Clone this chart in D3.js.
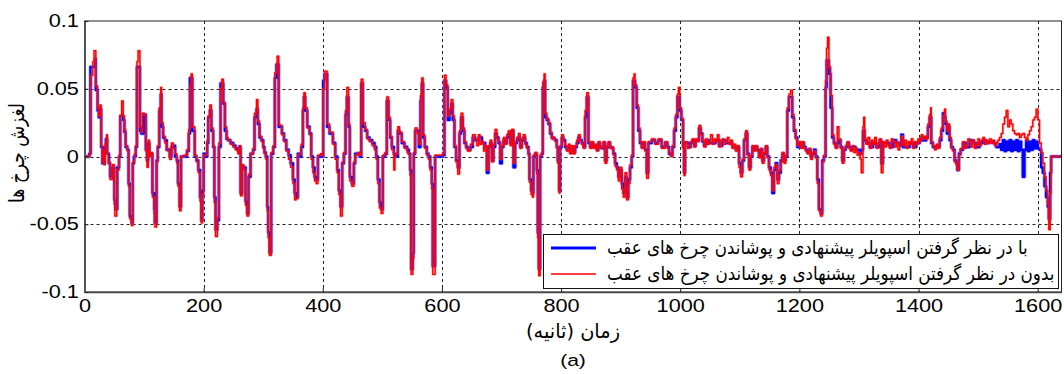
<!DOCTYPE html>
<html><head><meta charset="utf-8">
<script src="https://cdn.jsdelivr.net/npm/d3@7"></script>
<style>body{margin:0;background:#fff} svg{display:block}</style>
</head><body><svg id="c" width="1064" height="374"></svg>
<script>
const xTicks=[0,200,400,600,800,1000,1200,1400,1600];
const yTicks=[-0.1,-0.05,0,0.05,0.1];
const yTickLabels=["-0.1","-0.05","0","0.05","0.1"];
const xLabel="زمان (ثانیه)";
const yLabel="لغزش چرخ ها";
const subLabel="(a)";
const legendLabels=["با در نظر گرفتن اسپویلر پیشنهادی و پوشاندن چرخ های عقب","بدون در نظر گرفتن اسپویلر پیشنهادی و پوشاندن چرخ های عقب"];

// series: with spoiler (blue)
const blueSeries=[[0,0],[8,0.002],[10,0.066],[15,0.066],[18,0.072],[19,0.049],[22,0.034],[24,0.029],[27,0.035],[28,0.007],[30,-0.005],[33,0.007],[36,0.013],[38,0.002],[41,-0.005],[43,-0.015],[47,-0.008],[50,-0.032],[52,-0.039],[55,-0.008],[58,0],[60,0.030],[65,0.027],[67,0.018],[69,0.007],[72,0.005],[74,-0.020],[76,-0.044],[79,-0.049],[81,-0.005],[83,0],[86,0.007],[88,0.066],[93,0.019],[95,0.017],[99,0.031],[103,0.005],[105,-0.003],[107,0.010],[109,0.002],[111,0.002],[114,-0.027],[117,-0.039],[118,-0.049],[121,-0.003],[123,0.007],[125.5,0.034],[128,0.046],[129.4,0.022],[132,0.014],[135,0.012],[138,0.005],[140,0.005],[143,0],[146,0.007],[149,0.008],[152,0],[155,-0.003],[157,-0.020],[159.6,-0.037],[162,0],[167,0],[172,0.004],[175,0.017],[177,0.058],[181,0.019],[185,0],[188,-0.003],[191,-0.010],[194,-0.030],[196,-0.047],[198,-0.025],[200,0.002],[203,0],[206,0.010],[207.7,0.029],[210.5,0.034],[213,0.019],[216,0.007],[218,-0.030],[220,-0.054],[223,-0.047],[225.6,0.007],[228.4,0.054],[233,0.039],[235.7,0.019],[238.5,0.013],[241,0.012],[245,0.010],[249.6,0.008],[253.5,0.006],[257.5,0.004],[259.7,0.007],[262,-0.027],[264.7,-0.008],[267.5,-0.008],[270.3,-0.033],[273,-0.042],[275.3,-0.015],[278.7,0.002],[283,0.005],[285.4,0.029],[288.8,0.035],[291,0.024],[293.8,0.014],[297,0.012],[300,0.007],[302,0.003],[304.4,0],[306.7,-0.037],[308.3,-0.056],[310.6,-0.071],[313.4,0.002],[316.7,0.007],[319.5,0.058],[322.3,0.068],[326,0.022],
[327.5,0.022],[331.4,0.017],[334.8,0.012],[338.7,0.005],[342.6,0.001],[346,-0.005],[349.9,-0.017],[352.7,-0.027],[355.4,-0.030],[358.2,0.002],[361,0],[363.8,0.007],[366.6,0.034],[368.3,0.044],[370.5,0.034],[373.9,0.022],[377.8,0.017],[380.6,0],[383.4,-0.008],[386.2,-0.015],[389,-0.017],[391.8,0],[396.3,0.001],[398.5,0],[400.7,0.056],[403,0.061],[407.4,0.022],[411.3,0.017],[417,0.010],[420.9,0],[424.2,-0.010],[427,-0.025],[429.8,-0.037],[432.6,-0.005],[435.4,0.002],[438.2,0.031],[440.4,0.044],[443.2,0.022],[445.4,-0.015],[448.8,-0.020],[452.2,-0.005],[454.4,0.002],[458.9,0.002],[461.7,0],[464.5,0.054],[467.3,0.022],[471.2,0.019],[474.5,0.014],[478.4,0.012],[482.9,0.010],[486.8,0.007],[489.6,0],[492.4,-0.017],[495.2,-0.034],[498,-0.039],[500.8,0],[504.7,0.002],[507.5,0.041],[510.3,0.027],[513.1,0.014],[515.9,0.007],[519.2,0.002],[523.1,0],[526,0.019],[528.7,0.017],[532.6,0.010],[537.1,0.007],[541.6,0.005],[544.4,0.002],[546.6,-0.010],[548.3,-0.083],[551,-0.071],[552.8,0.002],[555,0.019],[558.4,0.019],[561.2,0.007],[564,0.041],[566.2,0.054],[568.4,0.014],[571.2,0.007],[574.6,0.002],[577.4,0],[580.2,-0.008],[583,-0.020],[584.6,-0.081],[588.5,0],[598.6,0],[601.4,0.001],[604.2,0.056],[607,0.051],[609.8,0.027],[612.6,0.032],[615.4,0.039],[618.2,0.027],[621,0.007],[623.8,-0.003],[626.6,-0.008],[629.4,0.017],[632.1,0.029],[635,0.019],[637.7,0.010],[640.5,0.007],[643.3,0.005],[647.8,0.007],[651.7,0.014],
[655.8,0.012],[661.4,0.014],[667,0.010],[672.6,0.007],[675.4,-0.012],[678.2,0.007],[681,0.010],[683.7,-0.003],[686.5,0.007],[689.3,0.017],[692.1,0.014],[694.9,0.010],[697.7,-0.005],[700.5,0.007],[703.3,0.012],[706.1,0.010],[708.9,0.014],[711.7,0.017],[714.5,0.010],[717.3,0.019],[720.1,-0.008],[722.9,0.010],[725.7,0.012],[728.5,0.014],[731.3,0.007],[734.1,0.012],[736.8,0.014],[739.6,0.010],[742.4,0.007],[745.2,0.002],[746.9,-0.017],[749.7,-0.025],[751.9,-0.027],[753.6,0],[756.4,0.002],[759.2,-0.010],[760.9,-0.056],[762.6,-0.083],[764.8,0],[767.6,0.002],[769.3,0.051],[771.5,0.056],[773.2,0.029],[776,0.027],[778.8,0.024],[781.6,0.017],[784.4,0.014],[787.2,0.013],[790,0.012],[792.7,0.007],[794.4,-0.003],[796.7,-0.025],[798.3,0.007],[801.1,0.014],[803.9,0.012],[806.7,0.007],[809.5,0.005],[812.3,0.007],[815.1,0.003],[817.9,0.007],[820.7,0.003],[823.5,0.007],[826.3,0.010],[829.1,0.014],[831.9,0.012],[834.7,0.010],[837.5,0.007],[840.3,0.029],[843.1,0.044],[845.9,0.010],[848.7,0.007],[851.4,0.010],[854.2,0.007],[857,0.008],[859.8,0.005],[862.6,0.010],[865.4,0.007],[868.2,0.006],[871,0.010],[873.8,-0.003],[876.6,0.007],[879.4,0.010],[882.2,0.007],[885,0.006],[887.8,0.002],[890.6,-0.005],[893.4,-0.008],[896.2,-0.015],[899,-0.010],[901.8,-0.020],[904.6,-0.027],[907.3,-0.015],[910.1,-0.030],[912.9,-0.017],[915.7,-0.008],[918.5,0],[920.8,0.056],[924.1,0.051],[926.9,0.036],[929.7,0.019],[932.5,0.010],[935.3,0.007],[938.1,0.010],[940.9,0.005],[943.7,-0.012],[946.5,0.010],[952.1,0.012],[957.7,0.010],[963.2,0.012],[968.8,0.007],[974.4,0.010],
[978.5,0.007],[981.3,0.002],[984.1,0.001],[986.9,0.007],[989.7,0.019],[992.5,0.029],[995.3,0.044],[999.2,0.034],[1002,0.027],[1004.8,0.007],[1006.4,-0.012],[1008.1,0.010],[1014.8,0.007],[1017.6,0.010],[1020.4,0.012],[1023.2,0.008],[1026,0.012],[1028.8,0.012],[1031.6,0.021],[1034.4,0.017],[1037.2,0.011],[1040,0.008],[1042.8,0.012],[1048.4,0.010],[1054,0.010],[1059.6,0.012],[1065.1,0.008],[1070.7,0.012],[1076.3,0.010],[1081.9,0.010],[1087.5,0.007],[1093.1,0.005],[1095.9,0.007],[1098.7,-0.005],[1101.5,-0.012],[1104.3,-0.003],[1107.1,0.012],[1109.9,0.017],[1112.7,0.002],[1115.5,-0.008],[1118.2,0],[1121,0.007],[1123.8,0.005],[1126.6,0.007],[1129.4,0.005],[1132.2,0],[1135,0.005],[1137.8,-0.003],[1140.6,0.002],[1143.4,0.007],[1146.2,0],[1149,-0.008],[1151.8,-0.012],[1154.6,-0.027],[1157.4,-0.010],[1160.2,-0.005],[1163,-0.017],[1165.8,-0.012],[1168.6,-0.003],[1171.4,0.002],[1174.2,-0.003],[1177,0],[1179.7,0.034],[1182.5,0.044],[1185.3,0.044],[1188.1,0.029],[1190.9,0.019],[1193.7,0.014],[1196.5,0.007],[1199.3,0.010],[1202.1,0.007],[1204.9,0.010],[1207.7,0.007],[1210.5,0.005],[1213.3,0.003],[1216.1,0.005],[1218.9,0],[1221.7,0.002],[1224.5,0.005],[1227.3,0],[1230.1,-0.017],[1232.8,-0.039],[1235.6,-0.042],[1238.4,-0.003],[1241.2,0],[1244,0.051],[1245.7,0.071],[1249.6,0.061],[1252.4,0.036],[1255.2,0.014],[1258,0.010],[1260.8,0.007],[1263.6,0.010],[1266.4,0.012],[1269.2,0.007],[1272,-0.003],[1274.8,0.005],[1277.6,0.007],[1280.4,0.010],[1283.2,0.007],[1286,0.005],[1288.7,0.007],[1294.3,0.005],[1299.9,0.002],
[1304,0.005],[1306.8,0.019],[1309.6,0.012],[1312.4,0.010],[1318,0.007],[1323.6,0.010],[1329.2,0.007],[1334.7,0.012],[1337.5,-0.005],[1340.3,0.010],[1345.9,0.010],[1351.5,0.007],[1357.1,0.012],[1362.7,0.010],[1368.3,0.008],[1371.1,0.016],[1373.9,0.007],[1379.5,0.007],[1385,0.010],[1390.6,0.007],[1396.2,0.010],[1401.8,0.012],[1404.6,0.014],[1407.4,0.012],[1413,0.014],[1415.8,0.022],[1418.6,0.029],[1421.4,0.010],[1424.2,0.007],[1429.8,0.007],[1435.4,0.012],[1438.2,0.019],[1441,0.032],[1443.7,0.029],[1445.4,0.024],[1447.7,0.017],[1449.3,0.022],[1452.1,0.012],[1454.9,0.007],[1457.7,0.005],[1460.5,-0.003],[1463.3,-0.005],[1465,-0.010],[1467.8,0.002],[1470.6,0.005],[1474.5,0.010],[1480.1,0.007],[1485.7,0.012],[1491.3,0.010],[1496.9,0.007],[1502.4,0.010],[1508,0.012],[1513.6,0.010],[1519.2,0.011],[1524.8,0.010],[1530.4,0.007],[1536,0.009],[1538.8,0.005],[1541.6,0.012],[1544.4,0.004],[1547.2,0.011],[1550,0.005],[1552.8,0.012],[1555.5,0.004],[1558.3,0.011],[1561.1,0.005],[1563.9,0.012],[1566.7,0.004],[1569.5,0.011],[1572.3,0.005],[1575.1,-0.015],[1577.9,0.005],[1580.7,0.012],[1583.5,0.004],[1586.3,0.011],[1589.1,0.005],[1591.9,0.012],[1594.7,0.006],[1597.5,0.011],[1600.3,0.006],[1603.1,0.005],[1605.9,-0.008],[1608.7,-0.012],[1611.5,-0.022],[1614.2,-0.030],[1617,-0.037],[1618.7,-0.046],[1621,-0.012],[1622.6,0],[1640,0]];

// series: without spoiler (red)
const redSeries=[[0,0],[9,0.002],[11,0.060],[14,0.070],[16,0.078],[19,0.052],[22,0.036],[24,0.030],[26,0.038],[28,0.008],[30,-0.004],[31.5,0.004],[33,-0.006],[35,0.010],[37,0.016],[38.5,0.002],[40,-0.004],[43,-0.017],[47,-0.006],[50,-0.035],[51,-0.044],[54,-0.010],[58,0.001],[60,0.030],[62.4,0.041],[65,0.030],[67,0.020],[69,0.008],[72,0.004],[74,-0.022],[76,-0.046],[79,-0.051],[81,-0.004],[84,0.002],[86,0.008],[88,0.070],[90,0.078],[93,0.022],[95,0.018],[97,0.032],[100,0.031],[103,0.004],[105,-0.008],[107,0.012],[109,0],[111,0.003],[114,-0.030],[117,-0.042],[118.3,-0.052],[121,-0.004],[123,0.008],[125.5,0.036],[128,0.051],[129.4,0.025],[132,0.015],[135,0.010],[138,0.006],[140,0.004],[143,-0.002],[146,0.010],[149,0.006],[152,0.002],[155,-0.005],[157,-0.022],[159.6,-0.040],[162,0],[167,0.001],[172,0.005],[175,0.020],[177,0.052],[179,0.061],[181,0.022],[185,0.001],[188,-0.004],[191,-0.012],[194,-0.033],[196,-0.049],[198,-0.028],[200,0.001],[203,0.001],[206,0.012],[207.7,0.030],[210.5,0.038],[213,0.021],[216,0.008],[218,-0.034],[220,-0.059],[223,-0.045],[225.6,0.010],[228.4,0.050],[230.6,0.057],[233,0.040],[235.7,0.022],[238.5,0.014],[241,0.012],[245,0.009],[249.6,0.007],[253.5,0.005],[257.5,0.002],[259.7,0.008],[262,-0.029],[264.7,-0.006],[267.5,-0.010],[270.3,-0.036],[273,-0.044],[275.3,-0.013],[278.7,0.002],[283,0.006],[285.4,0.032],[288.8,0.042],[291,0.026],[293.8,0.015],[297,0.011],[300,0.006],[302,0.002],[304.4,-0.002],[306.7,-0.040],[308.3,-0.060],[310.6,-0.073],[313.4,0.003],[316.7,0.008],[319.5,0.062],[323.4,0.074],[326,0.024],
[327.5,0.023],[331.4,0.016],[334.8,0.011],[338.7,0.004],[342.6,-0.002],[346,-0.008],[349.9,-0.020],[352.7,-0.032],[355.4,-0.031],[358.2,0.001],[361,0.002],[363.8,0.009],[366.6,0.036],[368.3,0.047],[370.5,0.036],[373.9,0.021],[377.8,0.016],[380.6,-0.002],[383.4,-0.012],[386.2,-0.018],[389,-0.020],[391.8,0.001],[396.3,0.002],[398.5,0.001],[400.7,0.050],[403,0.063],[407.4,0.024],[411.3,0.018],[417,0.009],[420.9,-0.002],[424.2,-0.012],[427,-0.028],[429.8,-0.044],[432.6,-0.004],[435.4,0.003],[438.2,0.034],[440.4,0.051],[443.2,0.024],[445.4,-0.018],[448.8,-0.022],[452.2,-0.004],[454.4,0.001],[458.9,0.003],[461.7,0.001],[464.5,0.057],[467.3,0.025],[471.2,0.020],[474.5,0.013],[478.4,0.011],[482.9,0.008],[486.8,0.005],[489.6,-0.002],[492.4,-0.020],[495.2,-0.038],[498,-0.042],[500.8,0.001],[504.7,0.003],[507.5,0.044],[510.3,0.029],[513.1,0.015],[515.9,0.005],[519.2,-0.010],[521,0.001],[523.1,0.002],[526,0.022],[528.7,0.018],[532.6,0.011],[537.1,0.006],[541.6,0.003],[544.4,0.001],[546.6,-0.014],[548.3,-0.087],[551,-0.075],[552.8,0.003],[555,0.021],[558.4,0.017],[561.2,0.009],[564,0.045],[566.2,0.058],[568.4,0.016],[571.2,0.006],[574.6,0.001],[577.4,-0.002],[580.2,-0.010],[583,-0.024],[584.6,-0.087],[588.5,0.001],[598.6,0.001],[601.4,0.003],[604.2,0.060],[607,0.053],[609.8,0.030],[612.6,0.035],[615.4,0.042],[618.2,0.030],[621,0.008],[623.8,-0.004],[626.6,-0.013],[629.4,0.019],[632.1,0.032],[635,0.021],[637.7,0.011],[640.5,0.006],[643.3,0.004],[647.8,0.009],[651.7,0.016],
[655.8,0.013],[658.5,0.008],[661.4,0.016],[664,0.009],[667,0.011],[670,0.004],[672.6,0.008],[675.4,-0.010],[678.2,0.008],[681,0.012],[683.7,-0.004],[686.5,0.009],[689.3,0.020],[692.1,0.013],[694.9,0.011],[697.7,-0.002],[700.5,0.008],[703.3,0.014],[706.1,0.009],[708.9,0.016],[711.7,0.019],[714.5,0.008],[717.3,0.020],[720.1,-0.005],[722.9,0.011],[725.7,0.014],[728.5,0.017],[731.3,0.006],[734.1,0.013],[736.8,0.016],[739.6,0.009],[742.4,0.006],[745.2,0.001],[746.9,-0.019],[749.7,-0.028],[751.9,-0.030],[753.6,0.001],[756.4,0.003],[759.2,-0.013],[760.9,-0.060],[762.6,-0.088],[764.8,0.001],[767.6,0.003],[769.3,0.055],[771.5,0.061],[773.2,0.032],[776,0.028],[778.8,0.025],[781.6,0.018],[784.4,0.013],[787.2,0.014],[790,0.011],[792.7,0.006],[794.4,-0.005],[796.7,-0.027],[798.3,0.008],[801.1,0.016],[803.9,0.011],[806.7,0.008],[809.5,0.004],[812.3,0.009],[815.1,0.002],[817.9,0.008],[820.7,0.002],[823.5,0.008],[826.3,0.012],[829.1,0.016],[831.9,0.011],[834.7,0.009],[837.5,0.006],[840.3,0.034],[843.1,0.047],[845.9,0.011],[848.7,0.006],[851.4,0.011],[854.2,0.006],[857,0.009],[859.8,0.004],[862.6,0.011],[865.4,0.006],[868.2,0.007],[871,0.011],[873.8,-0.005],[876.6,0.008],[879.4,0.011],[882.2,0.006],[885,0.007],[887.8,0.001],[890.6,-0.007],[893.4,-0.010],[896.2,-0.018],[899,-0.008],[901.8,-0.024],[904.6,-0.030],[907.3,-0.012],[910.1,-0.032],[912.9,-0.020],[915.7,-0.006],[918.5,0.001],[920.8,0.058],[922.5,0.061],[924.1,0.053],[926.9,0.038],[929.7,0.021],[932.5,0.011],[935.3,0.006],[938.1,0.011],[940.9,0.004],[943.7,-0.016],[946.5,0.011],[952.1,0.013],[957.7,0.009],[963.2,0.013],[968.8,0.006],[974.4,0.011],
[978.5,0.006],[981.3,0.003],[984.1,0],[986.9,0.008],[989.7,0.021],[992.5,0.031],[995.3,0.046],[997,0.051],[999.2,0.036],[1002,0.028],[1004.8,0.006],[1006.4,-0.014],[1008.1,0.011],[1012,0.006],[1014.8,0.008],[1017.6,0.011],[1020.4,0.013],[1023.2,0.007],[1026,0.013],[1028.8,0.011],[1031.6,0.023],[1034.4,0.016],[1037.2,0.012],[1040,0.007],[1042.8,0.013],[1045.6,0.009],[1048.4,0.011],[1051,0.016],[1054,0.009],[1056.8,0.013],[1059.6,0.011],[1062.4,0.016],[1065.1,0.007],[1068,0.012],[1070.7,0.013],[1073.5,0.009],[1076.3,0.011],[1079,0.014],[1081.9,0.009],[1084.7,0.012],[1087.5,0.006],[1090.3,0.009],[1093.1,0.004],[1095.9,0.008],[1098.7,-0.008],[1101.5,-0.015],[1104.3,-0.002],[1107.1,0.013],[1109.9,0.019],[1112.7,0.001],[1115.5,-0.010],[1118.2,0.001],[1121,0.008],[1123.8,0.004],[1126.6,0.008],[1129.4,0.004],[1132.2,-0.001],[1135,0.006],[1137.8,-0.005],[1140.6,0.003],[1143.4,0.008],[1146.2,-0.001],[1149,-0.010],[1151.8,-0.014],[1154.6,-0.025],[1157.4,-0.008],[1160.2,-0.006],[1163,-0.020],[1165.8,-0.010],[1168.6,-0.004],[1171.4,0.003],[1174.2,-0.005],[1177,0.001],[1179.7,0.036],[1182.5,0.046],[1185.3,0.049],[1188.1,0.031],[1190.9,0.020],[1193.7,0.013],[1196.5,0.008],[1199.3,0.011],[1202.1,0.006],[1204.9,0.011],[1207.7,0.006],[1210.5,0.004],[1213.3,0.002],[1216.1,0.006],[1218.9,-0.002],[1221.7,0.003],[1224.5,0.004],[1227.3,-0.001],[1230.1,-0.020],[1232.8,-0.040],[1235.6,-0.044],[1238.4,-0.004],[1241.2,0.001],[1244,0.056],[1245.7,0.080],[1247.4,0.088],[1249.6,0.066],[1252.4,0.045],[1255.2,0.016],[1258,0.009],[1260.8,0.006],[1263.6,0.022],[1266.4,0.013],[1269.2,0.006],[1272,-0.005],[1274.8,0.006],[1277.6,0.008],[1280.4,0.011],[1283.2,0.006],[1286,0.004],[1288.7,0.008],[1291.5,0.003],[1294.3,0.006],[1297,0.001],[1299.9,0.003],
[1302,-0.002],[1304,-0.012],[1306.8,0.022],[1308,0.029],[1309.6,0.013],[1312.4,0.009],[1315,0.014],[1318,0.006],[1321,0.012],[1323.6,0.009],[1326.4,0.014],[1329.2,0.006],[1332,0.010],[1334.7,0.013],[1337.5,-0.012],[1340.3,0.011],[1343,0.007],[1345.9,0.012],[1348.7,0.008],[1351.5,0.006],[1354.3,0.013],[1357.1,0.011],[1359.9,0.007],[1362.7,0.011],[1365.5,0.005],[1368.3,0.009],[1371.1,0.015],[1373.9,0.008],[1376.7,0.012],[1379.5,0.006],[1382.3,0.011],[1385,0.009],[1387.8,0.013],[1390.6,0.006],[1393.4,0.011],[1396.2,0.009],[1399,0.013],[1401.8,0.011],[1404.6,0.016],[1407.4,0.013],[1410.2,0.015],[1413,0.013],[1415.8,0.024],[1418.6,0.031],[1420.3,0.036],[1421.4,0.011],[1424.2,0.008],[1427,0.005],[1429.8,0.009],[1432.6,0.006],[1435.4,0.014],[1438.2,0.021],[1441,0.030],[1443.7,0.035],[1445.4,0.026],[1447.7,0.019],[1449.3,0.024],[1452.1,0.014],[1454.9,0.006],[1457.7,0.004],[1460.5,-0.004],[1463.3,-0.006],[1465,-0.010],[1467.8,0.001],[1470.6,0.006],[1474.5,0.011],[1477.3,0.006],[1480.1,0.008],[1482.9,0.013],[1485.7,0.011],[1488.5,0.007],[1491.3,0.012],[1494,0.006],[1496.9,0.009],[1499.7,0.013],[1502.4,0.008],[1505.2,0.012],[1508,0.014],[1510.8,0.009],[1513.6,0.012],[1516.4,0.010],[1519.2,0.013],[1522,0.010],[1524.8,0.012],[1527.6,0.008],[1530.4,0.010],[1533.2,0.012],[1536,0.014],[1538.8,0.017],[1541.6,0.024],[1544.4,0.029],[1547.2,0.034],[1550,0.022],[1552.8,0.027],[1555.5,0.024],[1558.3,0.019],[1561.1,0.017],[1563.9,0.016],[1566.7,0.017],[1569.5,0.014],[1572.3,0.016],[1575.1,0.017],[1577.9,0.014],[1580.7,0.012],[1583.5,0.016],[1586.3,0.019],[1589.1,0.022],[1591.9,0.027],[1594.7,0.029],[1597.5,0.035],[1600.3,0.027],[1603.1,0.010],[1605.9,0.003],[1608.7,-0.005],[1611.5,-0.015],[1614.2,-0.025],[1617,-0.035],[1618.7,-0.054],[1621,-0.027],[1622.6,0],[1640,0]];

const W=1064,H=374;
const L=84.5,R=1061.5,T=21,B=292;
const svg=d3.select("#c");
svg.append("rect").attr("width",W).attr("height",H).attr("fill","#fff");

const x=d3.scaleLinear().domain([0,1640]).range([L,R]);
const y=d3.scaleLinear().domain([-0.1,0.1]).range([B,T]);

const numFont="'Liberation Sans', Arial, sans-serif";
const faFont="'DejaVu Sans', 'Noto Sans', sans-serif";
const SX=1.24;

// scale a text along its direction so that its width equals target (keeps glyph height)
function fitWidth(sel, size, target, baseTransform){
  sel.attr("font-size",size);
  const w=sel.node().getComputedTextLength();
  sel.attr("transform",`${baseTransform} scale(${target/w},1)`);
  return sel;
}

// grid
const grid=svg.append("g").attr("stroke","#222").attr("stroke-width",1).attr("stroke-dasharray","3,3");
grid.selectAll("line.gx").data(xTicks.filter(d=>d>0)).enter().append("line")
  .attr("x1",d=>Math.round(x(d))+0.5).attr("x2",d=>Math.round(x(d))+0.5).attr("y1",T).attr("y2",B);
grid.selectAll("line.gy").data(yTicks.filter(d=>d>-0.1&&d<0.1)).enter().append("line")
  .attr("x1",L).attr("x2",R).attr("y1",d=>Math.round(y(d))+0.5).attr("y2",d=>Math.round(y(d))+0.5);

// lines
svg.append("clipPath").attr("id","clip").append("rect").attr("x",L).attr("y",T).attr("width",R-L).attr("height",B-T);
const line=d3.line().x(d=>x(d[0])).y(d=>y(d[1])).curve(d3.curveStepAfter);
const g=svg.append("g").attr("clip-path","url(#clip)");
g.append("path").datum(blueSeries).attr("d",line).attr("fill","none").attr("stroke","rgba(90,90,255,0.45)").attr("stroke-width",4).attr("stroke-linejoin","round");
g.append("path").datum(blueSeries).attr("d",line).attr("fill","none").attr("stroke","#0000ff").attr("stroke-width",2.4).attr("stroke-linejoin","round");
g.append("path").datum(redSeries).attr("d",line).attr("fill","none").attr("stroke","rgba(255,90,90,0.45)").attr("stroke-width",2.6).attr("stroke-linejoin","round");
g.append("path").datum(redSeries).attr("d",line).attr("fill","none").attr("stroke","#ff0000").attr("stroke-width",1.4).attr("stroke-linejoin","round");

// frame
svg.append("rect").attr("x",L).attr("y",T).attr("width",R-L).attr("height",B-T).attr("fill","none").attr("stroke","#222").attr("stroke-width",1);

// axes
const ax=svg.append("g").attr("transform",`translate(0,${B})`)
  .call(d3.axisBottom(x).tickValues(xTicks).tickFormat(d3.format("d")).tickSize(-4).tickSizeOuter(0).tickPadding(8));
ax.select(".domain").attr("stroke","#444").attr("stroke-width",1.5);
ax.selectAll(".tick line").attr("stroke","#222");
ax.selectAll("text").attr("font-family",numFont).attr("font-size",17.5).attr("fill","#000").attr("transform",`scale(${SX},1)`);

const ay=svg.append("g").attr("transform",`translate(${L},0)`)
  .call(d3.axisLeft(y).tickValues(yTicks).tickFormat((d,i)=>yTickLabels[i]).tickSize(-4).tickSizeOuter(0).tickPadding(4.5));
ay.select(".domain").attr("stroke","#555").attr("stroke-width",2);
ay.selectAll(".tick line").attr("stroke","#222");
ay.selectAll("text").attr("font-family",numFont).attr("font-size",17.5).attr("fill","#000").attr("transform",`scale(${SX},1)`);

// labels
const xl=svg.append("text").attr("text-anchor","middle").attr("direction","rtl")
  .attr("font-family",faFont).attr("fill","#000").text(xLabel);
fitWidth(xl,20,94,"translate(573,338)");
svg.append("text").attr("transform",`translate(573,366) scale(${SX},1)`).attr("text-anchor","middle")
  .attr("font-family",numFont).attr("font-size",17).attr("fill","#000").text(subLabel);
const yl=svg.append("text").attr("text-anchor","middle").attr("direction","rtl")
  .attr("font-family",faFont).attr("fill","#000").text(yLabel);
fitWidth(yl,21,100,"translate(24,153) rotate(-90)");

// legend
const lg=svg.append("g");
lg.append("rect").attr("x",543.5).attr("y",234.5).attr("width",515).attr("height",54).attr("fill","#fff").attr("stroke","#111").attr("stroke-width",1);
const legendColors=["#0000ff","#ff0000"], legendWidths=[3,1.5], legendYs=[248,274], legendLens=[421,448];
legendLabels.forEach((lab,i)=>{
  lg.append("line").attr("x1",551).attr("x2",596).attr("y1",legendYs[i]).attr("y2",legendYs[i]).attr("stroke",legendColors[i]).attr("stroke-width",legendWidths[i]);
  const t=lg.append("text").attr("text-anchor","start")
    .attr("font-family",faFont).attr("fill","#000").text(lab);
  fitWidth(t,19,legendLens[i],`translate(607,${legendYs[i]+6})`);
});
</script></body></html>
